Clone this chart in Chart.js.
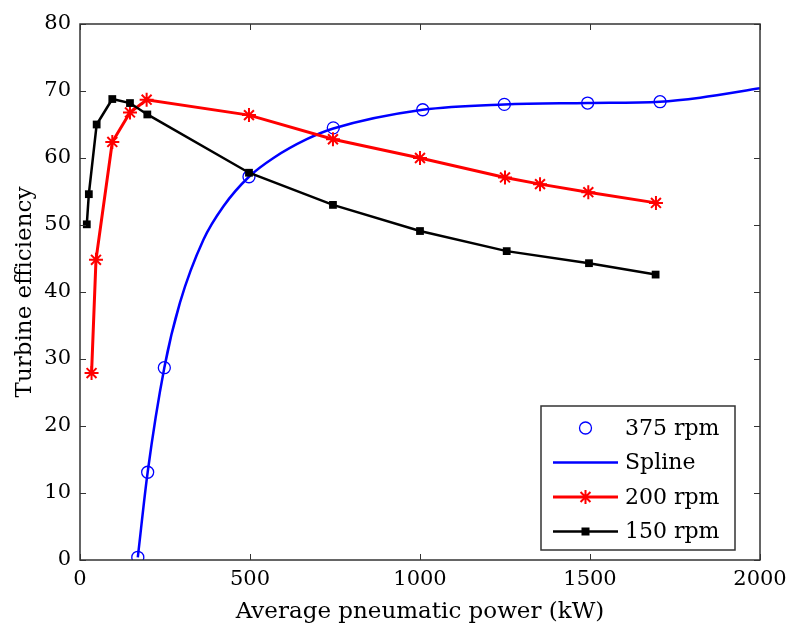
<!DOCTYPE html>
<html>
<head>
<meta charset="utf-8">
<script src="https://cdn.jsdelivr.net/npm/chart.js@4.4.0/dist/chart.umd.min.js"></script>
<style>
  html, body { margin: 0; padding: 0; background: #fff; }
  #wrap { width: 788px; height: 626px; }
</style>
</head>
<body>
<div id="wrap"><canvas id="eff_canvas" width="788" height="626"></canvas></div>
<script>
// values
const power375 = [170, 199, 248, 497, 745, 1008, 1248, 1493, 1706];
const eff375 = [0.4, 13.1, 28.7, 57.2, 64.5, 67.2, 68.0, 68.2, 68.4];

const splinePower = [170, 199, 248, 294, 363, 422, 497, 569, 667, 745, 1008, 1248, 1493, 1706, 1824, 2000];
const splineEff = [0.4, 13.1, 28.7, 38.4, 47.8, 52.8, 57.2, 60.0, 62.8, 64.4, 67.2, 68.0, 68.2, 68.4, 69.0, 70.4];

const power200 = [34, 47, 95, 147, 196, 497, 744, 1000, 1250, 1353, 1495, 1694];
const eff200 = [27.9, 44.8, 62.4, 66.8, 68.7, 66.4, 62.8, 60.0, 57.1, 56.1, 54.9, 53.3];

const power150 = [20, 26, 49, 95, 147, 198, 497, 744, 1000, 1255, 1497, 1693];
const eff150 = [50.1, 54.6, 65.0, 68.8, 68.2, 66.5, 57.8, 53.0, 49.1, 46.1, 44.3, 42.6];

const legendLabels = ['375 rpm', 'Spline', '200 rpm', '150 rpm'];

const fontFamily = '"DejaVu Serif", serif';

function toPoints(xs, ys) {
    const pts = [];
    for (let i = 0; i < xs.length; i++) {
        pts.push({x: xs[i], y: ys[i]});
    }
    return pts;
}

// box round the plot with ticks pointing inwards (matlab style)
const framePlugin = {
    id: 'frame',
    afterDraw(chart) {
        const ctx = chart.ctx;
        const a = chart.chartArea;
        const xs = chart.scales.x;
        const ys = chart.scales.y;
        const len = 6;
        ctx.save();
        ctx.strokeStyle = '#333';
        ctx.lineWidth = 1;
        ctx.beginPath();
        xs.ticks.forEach(t => {
            const px = Math.round(xs.getPixelForValue(t.value)) + 0.5;
            ctx.moveTo(px, a.bottom); ctx.lineTo(px, a.bottom - len);
            ctx.moveTo(px, a.top); ctx.lineTo(px, a.top + len);
        });
        ys.ticks.forEach(t => {
            const py = Math.round(ys.getPixelForValue(t.value)) + 0.5;
            ctx.moveTo(a.left, py); ctx.lineTo(a.left + len, py);
            ctx.moveTo(a.right, py); ctx.lineTo(a.right - len, py);
        });
        ctx.stroke();
        ctx.lineWidth = 1.5;
        ctx.strokeRect(a.left, a.top, a.right - a.left, a.bottom - a.top);
        ctx.restore();
    }
};

function drawMarker(ctx, style, x, y, color) {
    ctx.save();
    ctx.strokeStyle = color;
    ctx.fillStyle = color;
    if (style == 'circle') {
        ctx.lineWidth = 1.3;
        ctx.beginPath();
        ctx.arc(x, y, 6, 0, Math.PI * 2);
        ctx.stroke();
    } else if (style == 'star') {
        ctx.lineWidth = 2;
        ctx.beginPath();
        for (let k = 0; k < 4; k++) {
            const ang = k * Math.PI / 4;
            ctx.moveTo(x - 7 * Math.cos(ang), y - 7 * Math.sin(ang));
            ctx.lineTo(x + 7 * Math.cos(ang), y + 7 * Math.sin(ang));
        }
        ctx.stroke();
    } else if (style == 'rect') {
        ctx.fillRect(x - 4, y - 4, 8, 8);
    }
    ctx.restore();
}

// legend box in the lower right corner
const legendPlugin = {
    id: 'boxLegend',
    afterDraw(chart) {
        const ctx = chart.ctx;
        const a = chart.chartArea;
        const boxW = 194, boxH = 144;
        const bx = a.right - 25 - boxW;
        const by = a.bottom - 10 - boxH;
        ctx.save();
        ctx.fillStyle = '#fff';
        ctx.fillRect(bx, by, boxW, boxH);
        ctx.strokeStyle = '#333';
        ctx.lineWidth = 1.5;
        ctx.strokeRect(bx, by, boxW, boxH);
        const entries = [
            {line: null, marker: 'circle', color: '#0000ff'},
            {line: 2.5, marker: null, color: '#0000ff'},
            {line: 3, marker: 'star', color: '#ff0000'},
            {line: 2.5, marker: 'rect', color: '#000000'}
        ];
        ctx.font = '22px ' + fontFamily;
        ctx.textBaseline = 'middle';
        ctx.textAlign = 'left';
        for (let i = 0; i < entries.length; i++) {
            const e = entries[i];
            const rowY = by + 22 + i * 34.5;
            const x0 = bx + 12, x1 = bx + 77;
            if (e.line) {
                ctx.strokeStyle = e.color;
                ctx.lineWidth = e.line;
                ctx.beginPath();
                ctx.moveTo(x0, rowY);
                ctx.lineTo(x1, rowY);
                ctx.stroke();
            }
            if (e.marker) {
                drawMarker(ctx, e.marker, (x0 + x1) / 2, rowY, e.color);
            }
            ctx.fillStyle = '#000';
            ctx.fillText(legendLabels[i], bx + 84, rowY + 1);
        }
        ctx.restore();
    }
};

const effCanvas = document.getElementById('eff_canvas');
const effChart = new Chart(effCanvas, {
    type: 'scatter',
    data: {
        datasets: [{
            label: legendLabels[0],
            data: toPoints(power375, eff375),
            showLine: false,
            pointStyle: 'circle',
            pointRadius: 6,
            pointBorderWidth: 1.3,
            pointBorderColor: '#0000ff',
            pointBackgroundColor: 'rgba(0,0,0,0)',
            order: 4
        }, {
            label: legendLabels[1],
            data: toPoints(splinePower, splineEff),
            showLine: true,
            cubicInterpolationMode: 'monotone',
            borderColor: '#0000ff',
            borderWidth: 2.5,
            pointRadius: 0,
            order: 3
        }, {
            label: legendLabels[2],
            data: toPoints(power200, eff200),
            showLine: true,
            borderColor: '#ff0000',
            borderWidth: 3,
            pointStyle: 'star',
            pointRadius: 7,
            pointBorderWidth: 2,
            pointBorderColor: '#ff0000',
            pointBackgroundColor: '#ff0000',
            order: 2
        }, {
            label: legendLabels[3],
            data: toPoints(power150, eff150),
            showLine: true,
            borderColor: '#000000',
            borderWidth: 2.5,
            pointStyle: 'rect',
            pointRadius: 5.5,
            pointBorderWidth: 0,
            pointBackgroundColor: '#000000',
            order: 1
        }]
    },
    options: {
        responsive: false,
        animation: false,
        layout: {
            padding: {top: 24, right: 28, left: 0, bottom: 0}
        },
        plugins: {
            legend: {display: false},
            tooltip: {enabled: false}
        },
        scales: {
            x: {
                type: 'linear',
                min: 0,
                max: 2000,
                grid: {display: false, drawTicks: false},
                border: {display: false},
                ticks: {
                    stepSize: 500,
                    padding: 7,
                    color: '#000',
                    maxRotation: 0,
                    font: {family: fontFamily, size: 21},
                    callback: v => String(v)
                },
                title: {
                    display: true,
                    text: 'Average pneumatic power (kW)',
                    color: '#000',
                    padding: {top: 0, bottom: 0},
                    font: {family: fontFamily, size: 23}
                },
                afterFit(scale) {
                    scale.height = 66;
                    scale.paddingLeft = 0;
                    scale.paddingRight = 0;
                }
            },
            y: {
                type: 'linear',
                min: 0,
                max: 80,
                grid: {display: false, drawTicks: false},
                border: {display: false},
                ticks: {
                    stepSize: 10,
                    padding: 9,
                    color: '#000',
                    font: {family: fontFamily, size: 21},
                    callback: v => String(v)
                },
                title: {
                    display: true,
                    text: 'Turbine efficiency',
                    color: '#000',
                    padding: {top: 11, bottom: 0},
                    font: {family: fontFamily, size: 23}
                },
                afterFit(scale) {
                    scale.width = 80;
                    scale.paddingTop = 0;
                    scale.paddingBottom = 0;
                }
            }
        }
    },
    plugins: [framePlugin, legendPlugin]
});
</script>
</body>
</html>
